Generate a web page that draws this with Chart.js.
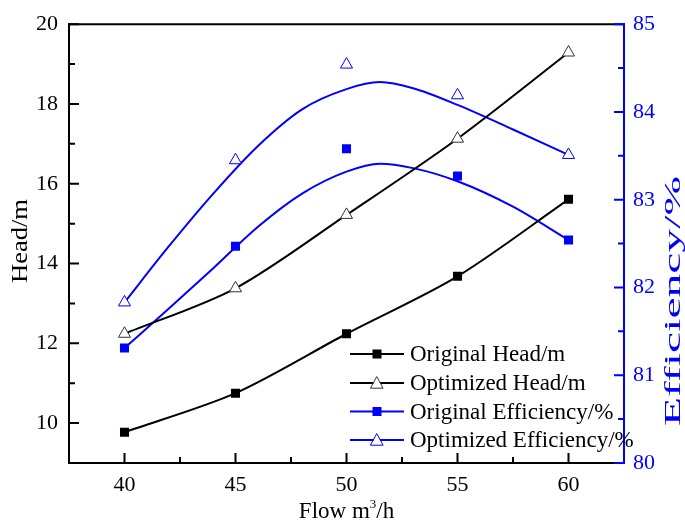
<!DOCTYPE html>
<html>
<head>
<meta charset="utf-8">
<script src="https://cdn.jsdelivr.net/npm/chart.js@4.4.1/dist/chart.umd.min.js"></script>
<style>
html, body { margin: 0; padding: 0; background: #fff; }
#wrap { width: 685px; height: 525px; }
</style>
</head>
<body>
<div id="wrap"><canvas id="chart"></canvas></div>
<script>
// measured points
const flow = [40, 45, 50, 55, 60];
const origHead = [9.77, 10.75, 12.24, 13.68, 15.61];
const optHead = [12.24, 13.38, 15.22, 17.13, 19.29];
const origEff = [81.31, 82.47, 83.58, 83.27, 82.54];
const optEff = [81.83, 83.45, 84.54, 84.19, 83.51];

// fitted efficiency curves
const fitFlow = [40, 42, 44, 46, 48, 50, 51.5, 53, 55, 57.5, 60];
const origEffFit = [81.31, 81.76, 82.22, 82.69, 83.07, 83.32, 83.41, 83.36, 83.21, 82.92, 82.54];
const optEffFit = [81.83, 82.47, 83.07, 83.61, 84.03, 84.26, 84.34, 84.27, 84.08, 83.80, 83.51];

// axes
const xTicks = [40, 45, 50, 55, 60];
const xMinor = [42.5, 47.5, 52.5, 57.5];
const headTicks = [10, 12, 14, 16, 18, 20];
const headMinor = [11, 13, 15, 17, 19];
const effTicks = [80, 81, 82, 83, 84, 85];
const effMinor = [80.5, 81.5, 82.5, 83.5, 84.5];

const BLUE = '#0000ff';
const SERIF = '"Liberation Serif", "Times New Roman", serif';

const toXY = (xs, ys) => xs.map((x, i) => ({ x: x, y: ys[i] }));

function drawTri(ctx, x, y, r, stroke) {
    ctx.beginPath();
    ctx.moveTo(x, y - r);
    ctx.lineTo(x + r * 0.87, y + r * 0.6);
    ctx.lineTo(x - r * 0.87, y + r * 0.6);
    ctx.closePath();
    ctx.fillStyle = '#fff';
    ctx.fill();
    ctx.lineWidth = 1;
    ctx.strokeStyle = stroke;
    ctx.stroke();
}

// vertical title, stretched along its length to the given size
function sideTitle(ctx, text, cx, cy, len, color) {
    ctx.save();
    ctx.font = '23px ' + SERIF;
    ctx.fillStyle = color;
    ctx.textAlign = 'center';
    ctx.textBaseline = 'middle';
    const w = ctx.measureText(text).width;
    ctx.translate(cx, cy);
    ctx.rotate(-Math.PI / 2);
    ctx.scale(len / w, 1);
    ctx.fillText(text, 0, 0);
    ctx.restore();
}

// frame, inward ticks, titles and legend
const framePlugin = {
    id: 'frame',
    afterDraw(chart) {
        const ctx = chart.ctx;
        const a = chart.chartArea;
        const sx = chart.scales.x, sy = chart.scales.y, sy1 = chart.scales.y1;
        ctx.save();
        ctx.lineCap = 'square';

        // black frame (left, top, bottom)
        ctx.strokeStyle = '#000';
        ctx.lineWidth = 2;
        ctx.beginPath();
        ctx.moveTo(a.right, a.top);
        ctx.lineTo(a.left, a.top);
        ctx.lineTo(a.left, a.bottom);
        ctx.lineTo(a.right, a.bottom);
        ctx.stroke();

        ctx.beginPath();
        headTicks.forEach(v => { const p = sy.getPixelForValue(v); ctx.moveTo(a.left, p); ctx.lineTo(a.left + 9, p); });
        headMinor.forEach(v => { const p = sy.getPixelForValue(v); ctx.moveTo(a.left, p); ctx.lineTo(a.left + 5, p); });
        xTicks.forEach(v => { const p = sx.getPixelForValue(v); ctx.moveTo(p, a.bottom); ctx.lineTo(p, a.bottom - 9); });
        xMinor.forEach(v => { const p = sx.getPixelForValue(v); ctx.moveTo(p, a.bottom); ctx.lineTo(p, a.bottom - 5); });
        ctx.stroke();

        // blue right axis
        ctx.strokeStyle = BLUE;
        ctx.beginPath();
        ctx.moveTo(a.right, a.top);
        ctx.lineTo(a.right, a.bottom);
        effTicks.forEach(v => { const p = sy1.getPixelForValue(v); ctx.moveTo(a.right, p); ctx.lineTo(a.right - 9, p); });
        effMinor.forEach(v => { const p = sy1.getPixelForValue(v); ctx.moveTo(a.right, p); ctx.lineTo(a.right - 5, p); });
        ctx.stroke();

        // axis titles
        sideTitle(ctx, 'Head/m', 21, 241, 84, '#000');
        sideTitle(ctx, 'Efficiency/%', 674, 301, 250, BLUE);

        // x title with superscript
        ctx.fillStyle = '#000';
        ctx.textAlign = 'left';
        ctx.textBaseline = 'alphabetic';
        const t1 = 'Flow m', t3 = '/h';
        ctx.font = '23px ' + SERIF;
        const w1 = ctx.measureText(t1).width, w3 = ctx.measureText(t3).width;
        ctx.font = '13px ' + SERIF;
        const w2 = ctx.measureText('3').width;
        const tx = (a.left + a.right) / 2 - (w1 + w2 + w3) / 2;
        const ty = 518;
        ctx.font = '23px ' + SERIF;
        ctx.fillText(t1, tx, ty);
        ctx.font = '13px ' + SERIF;
        ctx.fillText('3', tx + w1, ty - 10);
        ctx.font = '23px ' + SERIF;
        ctx.fillText(t3, tx + w1 + w2, ty);

        // legend
        const rows = [
            { label: 'Original Head/m', color: '#000', mark: 'rect' },
            { label: 'Optimized Head/m', color: '#000', mark: 'tri', edge: '#333' },
            { label: 'Original Efficiency/%', color: BLUE, mark: 'rect' },
            { label: 'Optimized Efficiency/%', color: BLUE, mark: 'tri', edge: BLUE }
        ];
        const rowY = [354, 383, 411.5, 440];
        ctx.textBaseline = 'middle';
        rows.forEach((r, i) => {
            const y = rowY[i];
            ctx.strokeStyle = r.color;
            ctx.lineWidth = 2;
            ctx.beginPath();
            ctx.moveTo(351, y);
            ctx.lineTo(403, y);
            ctx.stroke();
            if (r.mark === 'rect') {
                ctx.fillStyle = r.color;
                ctx.fillRect(377 - 4.5, y - 4.5, 9, 9);
            } else {
                drawTri(ctx, 377, y + 1, 7, r.edge);
            }
            ctx.fillStyle = '#000';
            ctx.font = '23px ' + SERIF;
            ctx.fillText(r.label, 410, y + 1);
        });
        ctx.restore();
    }
};

const tickFont = { family: SERIF, size: 22 };

const ctx = document.getElementById('chart').getContext('2d');
new Chart(ctx, {
    type: 'scatter',
    data: {
        datasets: [
            {
                label: 'Original Head/m',
                data: toXY(flow, origHead),
                yAxisID: 'y',
                showLine: true,
                tension: 0.3,
                borderColor: '#000',
                borderWidth: 2,
                pointStyle: 'rect',
                pointRadius: 6.4,
                pointBackgroundColor: '#000',
                pointBorderColor: '#000',
                pointBorderWidth: 0
            },
            {
                label: 'Optimized Head/m',
                data: toXY(flow, optHead),
                yAxisID: 'y',
                showLine: true,
                tension: 0.3,
                borderColor: '#000',
                borderWidth: 2,
                pointStyle: 'triangle',
                pointRadius: 7,
                pointBackgroundColor: '#fff',
                pointBorderColor: '#333',
                pointBorderWidth: 1
            },
            {
                label: 'Original Efficiency/%',
                data: toXY(flow, origEff),
                yAxisID: 'y1',
                showLine: false,
                pointStyle: 'rect',
                pointRadius: 6.4,
                pointBackgroundColor: BLUE,
                pointBorderColor: BLUE,
                pointBorderWidth: 0
            },
            {
                label: 'Optimized Efficiency/%',
                data: toXY(flow, optEff),
                yAxisID: 'y1',
                showLine: false,
                pointStyle: 'triangle',
                pointRadius: 7,
                pointBackgroundColor: '#fff',
                pointBorderColor: BLUE,
                pointBorderWidth: 1
            },
            {
                label: 'Original Efficiency fit',
                data: toXY(fitFlow, origEffFit),
                yAxisID: 'y1',
                showLine: true,
                cubicInterpolationMode: 'monotone',
                borderColor: BLUE,
                borderWidth: 2,
                pointRadius: 0
            },
            {
                label: 'Optimized Efficiency fit',
                data: toXY(fitFlow, optEffFit),
                yAxisID: 'y1',
                showLine: true,
                cubicInterpolationMode: 'monotone',
                borderColor: BLUE,
                borderWidth: 2,
                pointRadius: 0
            }
        ]
    },
    options: {
        responsive: true,
        maintainAspectRatio: false,
        animation: false,
        devicePixelRatio: 1,
        layout: { padding: { top: 20, left: 0, right: 0, bottom: 0 } },
        plugins: {
            legend: { display: false },
            tooltip: { enabled: false }
        },
        scales: {
            x: {
                type: 'linear',
                min: 37.5,
                max: 62.5,
                grid: { display: false, drawTicks: false },
                border: { display: false },
                afterBuildTicks: s => { s.ticks = xTicks.map(v => ({ value: v })); },
                afterFit: s => { s.height = 62; },
                ticks: { color: '#000', padding: 9, font: tickFont }
            },
            y: {
                position: 'left',
                min: 9,
                max: 20,
                grid: { display: false, drawTicks: false },
                border: { display: false },
                afterBuildTicks: s => { s.ticks = headTicks.map(v => ({ value: v })); },
                afterFit: s => { s.width = 69; },
                ticks: { color: '#000', padding: 11, font: tickFont }
            },
            y1: {
                position: 'right',
                min: 80,
                max: 85,
                grid: { display: false, drawTicks: false },
                border: { display: false },
                afterBuildTicks: s => { s.ticks = effTicks.map(v => ({ value: v })); },
                afterFit: s => { s.width = 61; },
                ticks: { color: BLUE, padding: 9, font: tickFont }
            }
        }
    },
    plugins: [framePlugin]
});
</script>
</body>
</html>
